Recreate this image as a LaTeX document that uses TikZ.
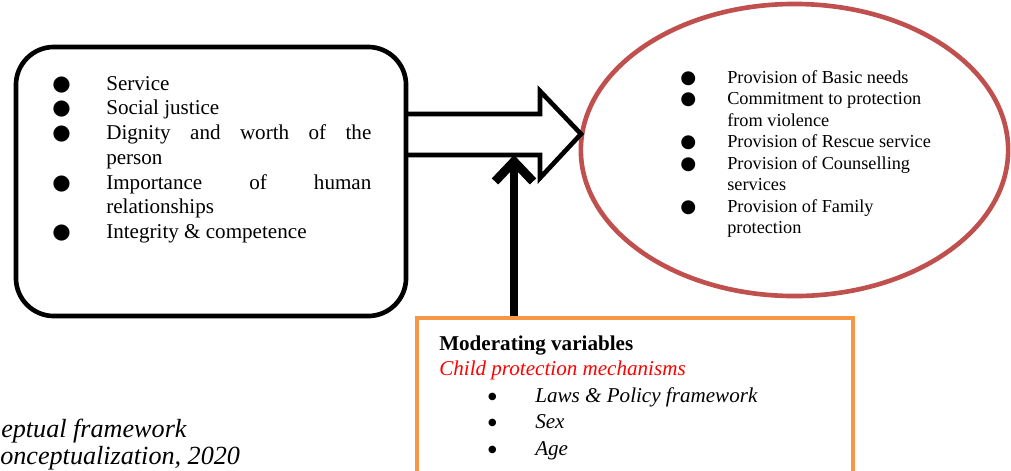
\documentclass[tikz,border=0pt]{standalone}
\usepackage{fontspec}
\setmainfont{Liberation Serif}
\newfontfamily\dotfont{DejaVu Sans}
\usepackage{array}
\usetikzlibrary{arrows.meta,positioning,calc,shapes.geometric}
\definecolor{ringred}{HTML}{C0504D}
\definecolor{modorange}{HTML}{F79646}
\definecolor{mechred}{HTML}{FF0000}
\newcommand{\bigdot}{{\dotfont ●}}
\newcommand{\smalldot}{\raisebox{2pt}{\dotfont\fontsize{7}{7}\selectfont ●}}
\tikzset{
  valuebox/.style={rectangle, rounded corners=0.95cm, draw=black, line width=3.3pt,
                   minimum width=9.75cm, minimum height=6.725cm, inner sep=0pt},
  ringnode/.style={ellipse, draw=ringred, line width=3.3pt,
                   minimum width=10.68cm, minimum height=7.3cm, inner sep=0pt},
  modbox/.style={rectangle, draw=modorange, line width=3.1pt,
                 minimum width=10.9cm, minimum height=5cm, inner sep=0pt},
  listtext/.style={inner sep=0pt, anchor=base west, align=left},
  hollowarrow/.style={line width=3.3pt, line join=miter},
  pusharrow/.style={line width=6.3pt, -{Straight Barb[length=5mm, width=9.5mm]}},
}

\begin{document}
\begin{tikzpicture}[x=0.025cm, y=-0.025cm]
\useasboundingbox (0,0) rectangle (1011,470);
% the three blocks
\node[valuebox] (values) at (211,181.5) {};
\node[ringnode] (outcomes) at (794.5,150) {};
\node[modbox] (moderators) at (635,418) {};
% texts
\node[listtext, font=\fontsize{15}{17.6}\selectfont] (valuelist) at (52,90)
  {\hyphenpenalty=10000\tolerance=10000
   \begin{tabular}[t]{@{}p{1.35cm}@{}p{6.625cm}@{}}
   \bigdot & Service\\
   \bigdot & Social justice\\
   \bigdot & Dignity and worth of the\linebreak person\\
   \bigdot & Importance of human\linebreak relationships\\
   \bigdot & Integrity \& competence
   \end{tabular}};
\node[listtext, font=\fontsize{13}{15.3}\selectfont] (outcomelist) at (680,83)
  {\hyphenpenalty=10000
   \begin{tabular}[t]{@{}p{1.175cm}@{}>{\raggedright\arraybackslash}p{5.4cm}@{}}
   \bigdot & Provision of Basic needs\\
   \bigdot & Commitment to protection from violence\\
   \bigdot & Provision of Rescue service\\
   \bigdot & Provision of Counselling services\\
   \bigdot & Provision of Family protection
   \end{tabular}};
\node[listtext, font=\fontsize{15}{18}\selectfont] (modlist) at (439,350)
  {\begin{tabular}[t]{@{}p{2.4cm}@{}l@{}}
   \multicolumn{2}{@{}l}{\textbf{Moderating variables}}\\
   \multicolumn{2}{@{}l}{\color{mechred}\itshape Child protection mechanisms}\\[1pt]
   \hspace*{1.22cm}\smalldot & \itshape Laws \& Policy framework\\[1pt]
   \hspace*{1.22cm}\smalldot & \itshape Sex\\[1pt]
   \hspace*{1.22cm}\smalldot & \itshape Age
   \end{tabular}};
\node[listtext, font=\fontsize{18.6}{20}\selectfont\itshape] (figcap) at (1,437) {eptual framework};
\node[listtext, font=\fontsize{18.6}{20}\selectfont\itshape] (srccap) at (0,464) {onceptualization, 2020};
% wide arrow from values to outcomes
\coordinate (flowfoot) at (514,155);
\draw[hollowarrow] (406,114) -- (540,114) -- (540,91) -- (581,134)
  -- (540,178) -- (540,155) -- (406,155);
% moderating push
\draw[pusharrow] (moderators.north -| flowfoot) -- (flowfoot);
\end{tikzpicture}
\end{document}
